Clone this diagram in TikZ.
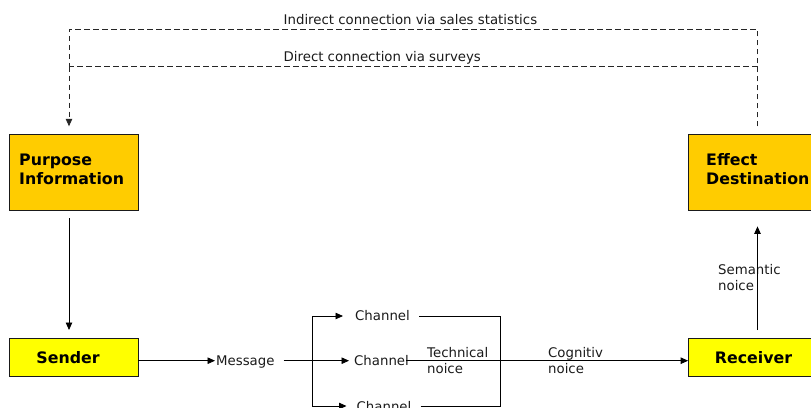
\documentclass[tikz,border=0pt]{standalone}
\usepackage{fontspec}
\setmainfont{DejaVu Sans}
\usetikzlibrary{arrows.meta}
\definecolor{boxorange}{HTML}{FFCC00}
\definecolor{boxyellow}{HTML}{FFFF00}
\definecolor{inkgray}{HTML}{1A1A1A}
\begin{document}
\begin{tikzpicture}[x=1pt,y=-1pt,
  every node/.style={inner sep=0pt},
  stagebox/.style={draw=inkgray, line width=0.8pt, minimum width=129pt},
  tallbox/.style={stagebox, fill=boxorange, minimum height=76pt},
  flatbox/.style={stagebox, fill=boxyellow, minimum height=38pt},
  shadowbox/.style={fill=black!45, minimum width=129pt},
  boldlabel/.style={font=\bfseries\fontsize{15.8}{19}\selectfont, text=black},
  smalllabel/.style={font=\fontsize{13.3}{16}\selectfont, text=inkgray},
  tip/.style={-{Triangle[length=7.5pt,width=6.5pt]}},
  arr/.style={draw=black, line width=0.8pt, tip},
  plain/.style={draw=black, line width=0.8pt},
  feedback/.style={draw=black!85, line width=0.8pt, dash pattern=on 5.5pt off 3.5pt}
]
\useasboundingbox (0,0) rectangle (811,407);
\clip (0,0) rectangle (811,407);

% drop shadows behind the boxes
\node[shadowbox, minimum height=76pt] at (74.7,173.2) {};
\node[shadowbox, minimum height=76pt] at (754.2,173.2) {};
\node[shadowbox, minimum height=38pt] at (74.7,358.2) {};
\node[shadowbox, minimum height=38pt] at (754.2,358.2) {};

% boxes
\node[tallbox] (purpose) at (73.5,172) {};
\node[tallbox] (effect) at (753,172) {};
\node[flatbox] (sender) at (73.5,357) {};
\node[flatbox] (receiver) at (753,357) {};

% box texts
\node[boldlabel, anchor=base west] (purposeA) at (19,165) {Purpose};
\node[boldlabel, anchor=base west] (purposeB) at (19,184) {Information};
\node[boldlabel, anchor=base west] (effectA) at (706,165) {Effect};
\node[boldlabel, anchor=base west] (effectB) at (706,184) {Destination};
\node[boldlabel, anchor=base] (senderT) at (68,363) {Sender};
\node[boldlabel, anchor=base] (receiverT) at (753.5,363) {Receiver};

% message and channels
\node[smalllabel, anchor=base west] (message) at (216,365) {Message};
\node[smalllabel, anchor=base west] (chtop) at (355,320.7) {Channel};
\node[smalllabel, anchor=base west] (chmid) at (354,365) {Channel};
\node[smalllabel, anchor=base west] (chbot) at (356.5,411.7) {Channel};

% noise labels
\node[smalllabel, anchor=base west] (technoise) at (427,357.3) {Technical};
\node[smalllabel, anchor=base west] at (427,373) {noice};
\node[smalllabel, anchor=base west] (cognoise) at (548,357.3) {Cognitiv};
\node[smalllabel, anchor=base west] at (548,373) {noice};
\node[smalllabel, anchor=base west] (semnoise) at (718,274.3) {Semantic};
\node[smalllabel, anchor=base west] at (718,290) {noice};

% feedback labels
\node[smalllabel, anchor=base west] (indirect) at (283.5,24) {Indirect connection via sales statistics};
\node[smalllabel, anchor=base west] (direct) at (283.5,61.7) {Direct connection via surveys};

% junction points
\coordinate (split) at (312,360.7);
\coordinate (splittop) at (312,316);
\coordinate (splitbot) at (312,406);
\coordinate (mergetop) at (500.5,316);
\coordinate (mergebot) at (500.5,406);
\coordinate (fbtopL) at (69,29.3);
\coordinate (fbtopR) at (757.5,29.3);
\coordinate (fbmidL) at (69,66.7);
\coordinate (fbmidR) at (757.5,66.7);

% main flow
\draw[arr, shorten <=7.6pt, shorten >=7.6pt] ([xshift=-4.5pt]purpose.south) -- ([xshift=-4.5pt]sender.north);
\draw[arr, shorten >=1pt] (sender.east |- split) -- (message.west |- split);
\draw[arr, shorten <=9pt, shorten >=5pt] (message.east |- split) -- (chmid.west |- split);
\draw[plain] (splitbot) -- (splittop);
\draw[arr, shorten >=12pt] (splittop) -- (chtop.west |- splittop);
\draw[arr, shorten >=10pt] (splitbot) -- (chbot.west |- splitbot);
\draw[plain, shorten <=9pt] (chtop.east |- mergetop) -- (mergetop) -- (mergebot);
\draw[plain, shorten <=9pt] (chbot.east |- mergebot) -- (mergebot);
\draw[arr] ([xshift=-3pt]chmid.east |- split) -- (receiver.west |- split);
\draw[arr, shorten <=7.6pt, shorten >=16pt] ([xshift=4.5pt]receiver.north) -- ([xshift=4.5pt]effect.south);

% feedback loops
\draw[feedback, shorten <=7.3pt] ([xshift=4.5pt]effect.north) -- (fbtopR) -- (fbtopL) -- (fbmidL);
\draw[feedback, tip, shorten >=7.3pt] (fbmidL) -- ([xshift=-4.5pt]purpose.north);
\draw[feedback] (fbmidR) -- (fbmidL);
\end{tikzpicture}
\end{document}
